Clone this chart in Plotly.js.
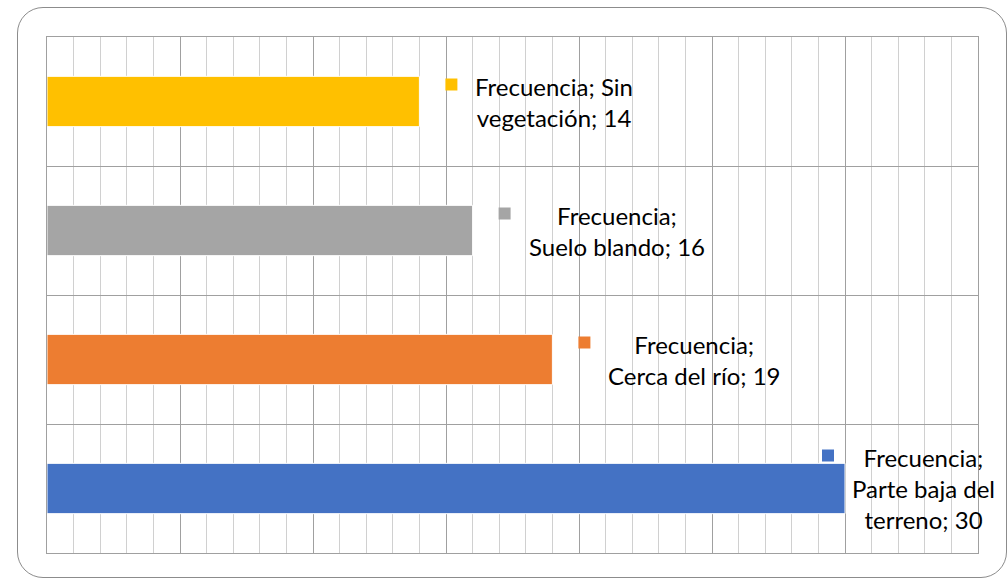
<!DOCTYPE html>
<html><head><meta charset="utf-8">
<script src="https://cdn.plot.ly/plotly-3.0.1.min.js"></script>
<style>
html,body{margin:0;padding:0;background:#fff;}
#frame{position:absolute;left:17px;top:7px;width:990px;height:571px;box-sizing:border-box;border:1px solid #8c8c8c;border-radius:26px;}
#chart{position:absolute;left:0;top:0;width:1008px;height:578px;}
</style></head><body>
<div id="frame"></div><div id="chart"></div>
<script>
const seriesName = "Frecuencia";
const categories = ["Parte baja del terreno", "Cerca del río", "Suelo blando", "Sin vegetación"];
const values = [30, 19, 16, 14];
const barColors = ["#4472C4", "#ED7D31", "#A5A5A5", "#FFC000"];
// word indices after which each data label wraps
const labelBreaks = [[1, 4], [1], [1], [2]];
// pixel offset of each label's text from the bar end
const labelShift = [5, 54, 54, 54];

const positions = categories.map((c, i) => i);

function labelText(i) {
  const words = `${seriesName}; ${categories[i]}; ${values[i]}`.split(' ');
  let out = '';
  words.forEach((w, k) => {
    out += w;
    if (k < words.length - 1) out += labelBreaks[i].includes(k + 1) ? '<br>' : ' ';
  });
  return out;
}

const annotations = positions.map(i => ({
  x: values[i], y: i, xref: 'x', yref: 'y',
  xanchor: 'left', yanchor: 'middle', xshift: labelShift[i],
  showarrow: false, align: 'center', text: labelText(i),
  font: {family: 'Lato, sans-serif', size: 24, color: '#000'}
}));

const shapes = positions.map(i => {
  const nLines = labelBreaks[i].length + 1;
  const c = (nLines - 1) * 16 + 1;
  return {
    type: 'rect', xref: 'x', yref: 'y',
    xsizemode: 'pixel', ysizemode: 'pixel',
    xanchor: values[i], yanchor: i,
    x0: labelShift[i] - 28, x1: labelShift[i] - 16,
    y0: c - 6, y1: c + 6,
    fillcolor: barColors[i], line: {width: 0}
  };
});

const trace = {
  type: 'bar', orientation: 'h',
  x: values, y: positions, width: 0.39,
  marker: {color: barColors, line: {color: '#ffffff', width: 1}},
  hoverinfo: 'skip'
};

const layout = {
  width: 1008, height: 578,
  margin: {l: 47, r: 30, t: 37, b: 25, pad: 0},
  paper_bgcolor: 'rgba(0,0,0,0)', plot_bgcolor: 'rgba(0,0,0,0)',
  showlegend: false,
  xaxis: {
    range: [0, 35], tick0: 0, dtick: 5, showgrid: true, gridcolor: '#a0a0a0', gridwidth: 1,
    minor: {dtick: 1, showgrid: true, gridcolor: '#d0d0d0', gridwidth: 1},
    showticklabels: false, ticks: '', zeroline: false,
    showline: true, linecolor: '#a0a0a0', linewidth: 1, mirror: true
  },
  yaxis: {
    range: [-0.5, 3.5], tickmode: 'array', tickvals: [-0.5, 0.5, 1.5, 2.5, 3.5],
    showgrid: true, gridcolor: '#a0a0a0', gridwidth: 1,
    showticklabels: false, ticks: '', zeroline: false,
    showline: true, linecolor: '#a0a0a0', linewidth: 1, mirror: true
  },
  annotations: annotations,
  shapes: shapes
};

Plotly.newPlot('chart', [trace], layout, {staticPlot: true, displayModeBar: false});
</script>
</body></html>
